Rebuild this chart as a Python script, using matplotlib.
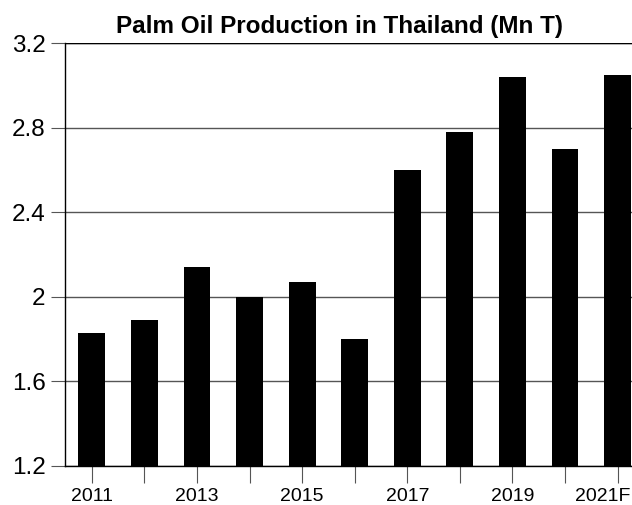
import matplotlib.pyplot as plt
from matplotlib.transforms import ScaledTranslation

plt.rcParams["font.family"] = ["Liberation Sans", "DejaVu Sans"]

years = ["2011", "2012", "2013", "2014", "2015", "2016", "2017", "2018", "2019", "2020", "2021F"]
production = [1.83, 1.89, 2.14, 2.00, 2.07, 1.80, 2.60, 2.78, 3.04, 2.70, 3.05]
y_ticks = [1.2, 1.6, 2.0, 2.4, 2.8, 3.2]
y_labels = ["1.2", "1.6", "2", "2.4", "2.8", "3.2"]

fig = plt.figure(figsize=(6.32, 5.05), dpi=100)
# axes run past the right edge, like the source image
ax = fig.add_axes([65 / 632, 1 - 466 / 505, 580 / 632, 423 / 505])

x = list(range(len(years)))
ax.bar(x, production, width=0.51, color="black", zorder=3)

ax.set_ylim(1.2, 3.2)
ax.set_xlim(-0.51, 10.52)
ax.set_yticks(y_ticks)
ax.set_yticklabels(y_labels, fontsize=17.5)
ax.set_xticks(x)
# every other year labelled; the last one is drawn by hand further down
ax.set_xticklabels([y if i % 2 == 0 and i < len(years) - 1 else "" for i, y in enumerate(years)],
                   fontsize=14)

# 2021F pulled left a bit so it stays inside the picture, same height as the other labels
shift = ScaledTranslation(-15 / 100, -(12 + 4) / 72, fig.dpi_scale_trans)
ax.text(x[-1], 0, years[-1], transform=ax.get_xaxis_transform() + shift,
        ha="center", va="top", fontsize=14)

ax.grid(axis="y", color="#555555", linewidth=1, zorder=1)
ax.axhline(3.2, color="black", linewidth=1, zorder=2)

for side in ["right", "top"]:
    ax.spines[side].set_visible(False)
ax.spines["left"].set_linewidth(1)
ax.spines["bottom"].set_linewidth(1)

ax.tick_params(axis="y", length=10, color="#555555", pad=4)
ax.tick_params(axis="x", length=12, color="#555555", pad=4)

fig.text(340 / 632, 1 - 27 / 505, "Palm Oil Production in Thailand (Mn T)",
         ha="center", va="center", fontsize=17.5, fontweight="bold")

plt.savefig("out.png", dpi=100)
